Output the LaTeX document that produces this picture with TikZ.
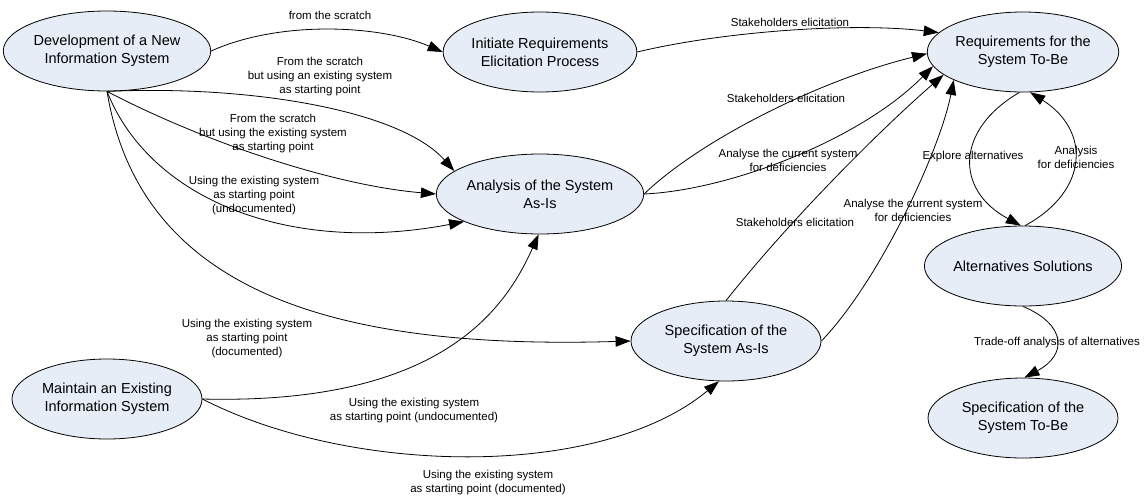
\documentclass[tikz,border=0pt]{standalone}
\usepackage{fontspec}
\setmainfont{Liberation Sans}
\usetikzlibrary{arrows.meta,shapes.geometric}
\definecolor{nodefill}{HTML}{E7EDF7}
\begin{document}
\begin{tikzpicture}[x=1pt,y=-1pt,
  state/.style={ellipse, draw=black, line width=0.8pt, fill=nodefill,
    minimum width=190pt, minimum height=80pt, inner sep=0pt, align=center,
    font=\fontsize{14.5}{18}\selectfont},
  flow/.style={draw=black, line width=0.8pt, -{Triangle[length=15pt,width=10.5pt]}},
  lbl/.style={align=center, inner sep=0pt, font=\fontsize{11.5}{14}\selectfont}]
\useasboundingbox (0,0) rectangle (1146,496);

% process states
\node[state] (dev)      at (107,51)  {Development of a New\\Information System};
\node[state] (init)     at (540,52)  {Initiate Requirements\\Elicitation Process};
\node[state] (req)      at (1023,52) {Requirements for the\\System To-Be};
\node[state] (asis)     at (540,194) {Analysis of the System\\As-Is};
\node[state] (alt)      at (1023,266){Alternatives Solutions};
\node[state] (specasis) at (726,341) {Specification of the\\System As-Is};
\node[state] (spectobe) at (1023,418){Specification of the\\System To-Be};
\node[state] (maint)    at (107,399) {Maintain an Existing\\Information System};

% transitions
\draw[flow] (dev.east) .. controls (280,20) and (380,25) .. (init.west);
\draw[flow] (init.east) .. controls (720,32) and (850,22) .. (req.167);
\draw[flow] (dev.south) .. controls (250,85) and (400,110) .. (asis.165);
\draw[flow] (dev.south) .. controls (200,140) and (330,185) .. (asis.west);
\draw[flow] (dev.south) .. controls (150,200) and (290,255) .. (asis.200);
\draw[flow] (dev.south) .. controls (140,290) and (330,350) .. (specasis.west);
\draw[flow] (maint.east) .. controls (440,405) and (505,310) .. (asis.-92);
\draw[flow] (maint.east) .. controls (350,475) and (600,480) .. (specasis.-100);
\draw[flow] (asis.east) .. controls (700,140) and (820,80) .. (req.181);
\draw[flow] (asis.east) .. controls (730,190) and (860,140) .. (req.189);
\draw[flow] (specasis.north) .. controls (790,220) and (880,130) .. (req.196);
\draw[flow] (specasis.east) .. controls (880,280) and (940,150) .. (req.202);
\draw[flow] (req.-95) .. controls (955,130) and (955,190) .. (alt.93);
\draw[flow] (alt.87) .. controls (1090,190) and (1090,130) .. (req.-80);
\draw[flow] (alt.south) .. controls (1067,325) and (1067,355) .. (spectobe.88);

% transition labels
\node[lbl] (l1)  at (330,15)  {from the scratch};
\node[lbl] (l2)  at (790,22)  {Stakeholders elicitation};
\node[lbl] (l3)  at (320,77)  {From the scratch\\but using an existing system\\as starting point};
\node[lbl] (l4)  at (273,134) {From the scratch\\but using the existing system\\as starting point};
\node[lbl] (l5)  at (254,196) {Using the existing system\\as starting point\\(undocumented)};
\node[lbl] (l6)  at (247,339) {Using the existing system\\as starting point\\(documented)};
\node[lbl] (l7)  at (414,411) {Using the existing system\\as starting point (undocumented)};
\node[lbl] (l8)  at (488,483) {Using the existing system\\as starting point (documented)};
\node[lbl] (l9)  at (786,98)  {Stakeholders elicitation};
\node[lbl] (l10) at (788,160) {Analyse the current system\\for deficiencies};
\node[lbl] (l11) at (795,222) {Stakeholders elicitation};
\node[lbl] (l12) at (913,210) {Analyse the current system\\for deficiencies};
\node[lbl] (l13) at (973,157) {Explore alternatives};
\node[lbl] (l14) at (1076,157){Analysis\\for deficiencies};
\node[lbl] (l15) at (1057,343){Trade-off analysis of alternatives};
\end{tikzpicture}
\end{document}
